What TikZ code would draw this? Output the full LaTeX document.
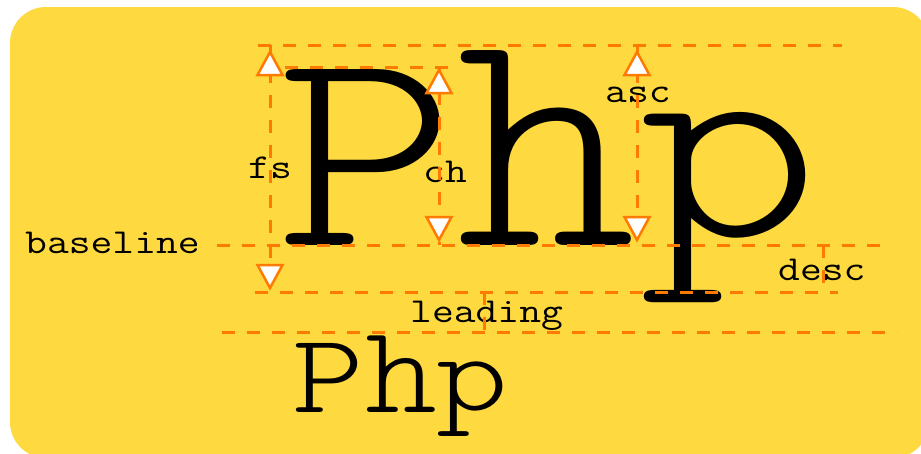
\documentclass[tikz,border=0pt]{standalone}
\usepackage{fontspec}
\usepackage{graphicx}
\newfontfamily\lmlight{lmmonolt10-regular.otf}
\definecolor{bgy}{RGB}{255,217,64}
\definecolor{org}{RGB}{255,122,0}
\newcommand{\wideby}[2]{\scalebox{#1}[1]{#2}}
\tikzset{
  guide/.style={draw=org, line width=3pt, dash pattern=on 13pt off 12pt},
  tri/.style={draw=org, fill=white, line width=2.5pt, line join=miter},
  lbl/.style={font=\fontsize{35}{35}\selectfont\ttfamily, inner sep=0pt, anchor=base west, text=black},
  bigtxt/.style={font=\fontsize{288}{288}\selectfont\lmlight, inner sep=0pt, anchor=base west},
  smalltxt/.style={font=\fontsize{113}{113}\selectfont\lmlight, inner sep=0pt, anchor=base west},
  uptri/.pic={\draw[tri] (0,0) -- (-12.5,23) -- (12.5,23) -- cycle;},
  downtri/.pic={\draw[tri] (0,0) -- (-12.5,-23) -- (12.5,-23) -- cycle;}
}
\begin{document}
\begin{tikzpicture}[x=1pt,y=-1pt]
\useasboundingbox (0,0) rectangle (921,453);
\fill[bgy, rounded corners=36pt] (10,7) rectangle (929,458);

% sample text, large
\node[bigtxt] (bigP) at (276,245) {\scalebox{1.19}[1]{P}};
\node[bigtxt] (bigh) at (456,245) {\scalebox{1.19}[1.108]{h}};
\node[bigtxt] (bigp) at (639,236) {\scalebox{1.19}[1]{p}};
% sample text, small
\node[smalltxt] (smP) at (292,412) {\scalebox{1.21}[1]{P}};
\node[smalltxt] (smh) at (365,412) {\scalebox{1.21}[1.11]{h}};
\node[smalltxt] (smp) at (436,410) {\scalebox{1.21}[1]{p}};

% labels
\node[lbl] (fs) at (248,178) {\wideby{1.21}{fs}};
\node[lbl] (ch) at (423,182) {\wideby{1.21}{ch}};
\node[lbl] (asc) at (605,102) {\wideby{1.21}{asc}};
\node[lbl] (baseline) at (25,253) {\wideby{1.21}{baseline}};
\node[lbl] (desc) at (778,280) {\wideby{1.21}{desc}};
\node[lbl] (leading) at (410,322) {\wideby{1.21}{leading}};

% guide coordinates
\coordinate (topL) at (258,45);   \coordinate (topR) at (842,45);
\coordinate (capL) at (285,67);   \coordinate (capR) at (453,67);
\coordinate (baseL) at (217,245); \coordinate (baseR) at (890,245);
\coordinate (descL) at (255,292); \coordinate (descR) at (838,292);
\coordinate (leadL) at (222,332); \coordinate (leadR) at (897,332);

\coordinate (fsT) at (270,45);  \coordinate (fsB) at (270,292);
\coordinate (chT) at (439,67);  \coordinate (chB) at (439,245);
\coordinate (ascT) at (637,45); \coordinate (ascB) at (637,245);
\coordinate (dT) at (823,245);  \coordinate (dB) at (823,292);
\coordinate (lT) at (484,292);  \coordinate (lB) at (484,332);

% horizontal guides
\draw[guide] (topL) -- (topR);
\draw[guide] (capL) -- (capR);
\draw[guide] (baseL) -- (baseR);
\draw[guide] (descL) -- (descR);
\draw[guide] (leadL) -- (leadR);

% vertical guides
\draw[guide] (fsT) -- (fsB);
\draw[guide] (chT) -- (chB);
\draw[guide] (ascT) -- (ascB);
\draw[guide] (dT) -- (dB);
\draw[guide] (lT) -- (lB);

% arrow heads
\pic at (270,52) {uptri};
\pic at (270,288) {downtri};
\pic at (439,70) {uptri};
\pic at (439,240) {downtri};
\pic at (637,52) {uptri};
\pic at (637,240) {downtri};
\end{tikzpicture}
\end{document}
